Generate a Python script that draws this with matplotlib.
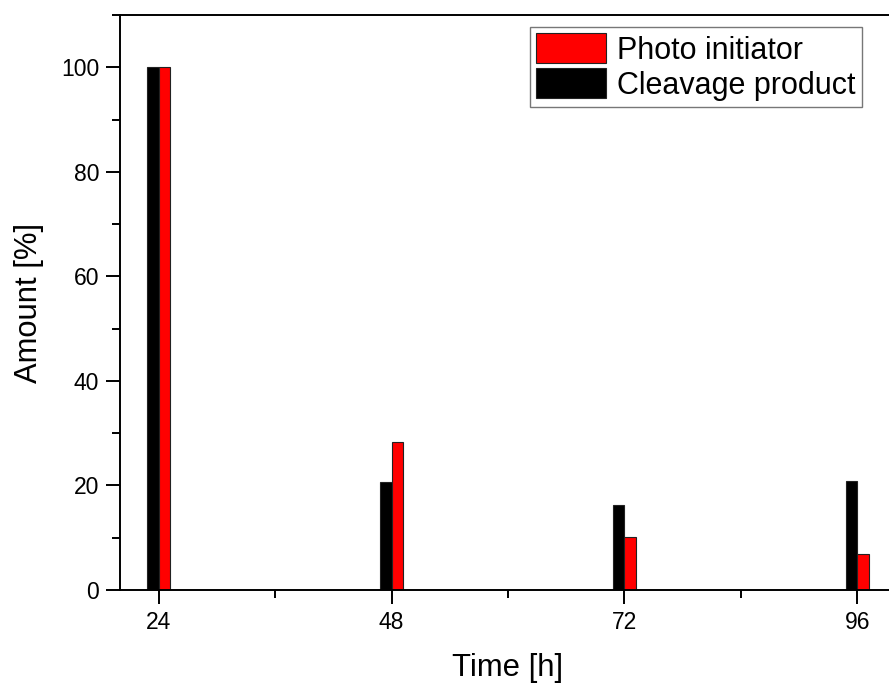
import matplotlib
matplotlib.use("Agg")
import matplotlib.pyplot as plt
from matplotlib.ticker import MultipleLocator

plt.rcParams['font.family'] = ['Liberation Sans', 'DejaVu Sans']

times = [24, 48, 72, 96]
cleavage_product = [100, 20.6, 16.2, 20.8]
photo_initiator = [100, 28.3, 10.2, 6.9]
tick_labels = ["24", "48", "72", "96"]

fig = plt.figure(figsize=(8.89, 6.86), dpi=100)
# axes extends past the right edge like the reference
ax = fig.add_axes([120/889, 1 - 590/686, (896-120)/889, (590-15)/686])

w = 1.2
ax.bar([t - w/2 for t in times], cleavage_product, width=w, color='black',
       edgecolor='#222222', linewidth=0.8, label='Cleavage product', zorder=2)
ax.bar([t + w/2 for t in times], photo_initiator, width=w, color='#ff0000',
       edgecolor='#222222', linewidth=0.8, label='Photo initiator', zorder=2)

ax.set_xlim(20, 100)
ax.set_ylim(0, 110)
ax.set_xticks(times)
ax.set_xticklabels(tick_labels)
ax.xaxis.set_minor_locator(MultipleLocator(12))
ax.yaxis.set_major_locator(MultipleLocator(20))
ax.yaxis.set_minor_locator(MultipleLocator(10))

for s in ['left', 'bottom', 'top']:
    ax.spines[s].set_linewidth(1.4)
ax.spines['right'].set_visible(False)

ax.tick_params(which='major', direction='out', length=10, width=1.4, labelsize=16.5, pad=5)
ax.tick_params(which='minor', direction='out', length=6, width=1.4)
ax.tick_params(top=False, right=False, which='both')

ax.set_xlabel('Time [h]', fontsize=22.3, labelpad=14)
ax.set_ylabel('Amount [%]', fontsize=22.3, labelpad=12)

handles, labels = ax.get_legend_handles_labels()
leg = ax.legend(handles[::-1], labels[::-1], loc='upper left',
                bbox_to_anchor=((530-120)/776, 1 - (27-15)/575),
                fontsize=22, frameon=True, fancybox=False, edgecolor='#555555',
                handlelength=2.3, handleheight=1.15, handletextpad=0.35,
                borderpad=0.2, labelspacing=0.08, borderaxespad=0)
leg.get_frame().set_linewidth(1.0)

fig.savefig('out.png', dpi=100)
